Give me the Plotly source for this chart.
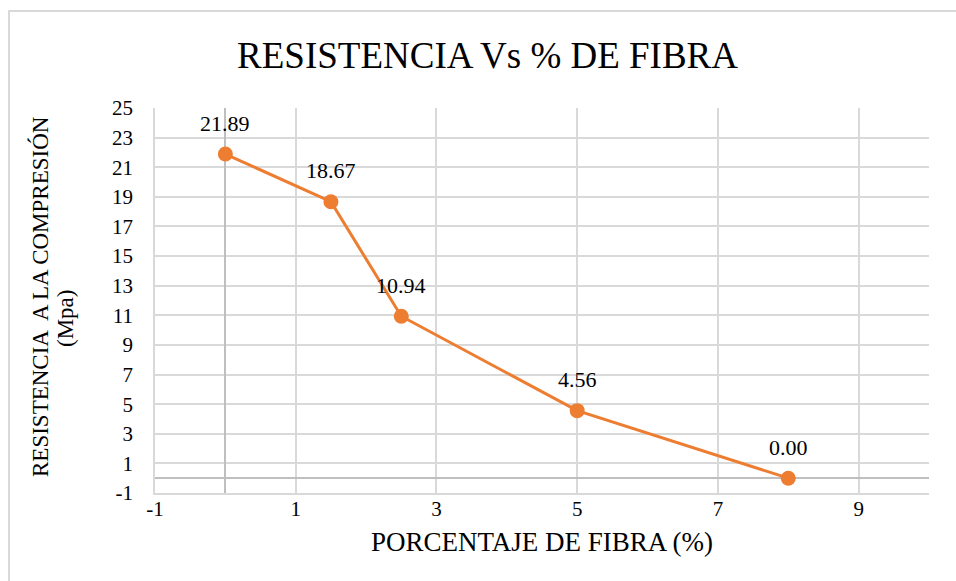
import plotly.graph_objects as go

fibra = [0, 1.5, 2.5, 5, 8]
resistencia = [21.89, 18.67, 10.94, 4.56, 0.00]
etiquetas = ["21.89", "18.67", "10.94", "4.56", "0.00"]
x_ticks = [-1, 1, 3, 5, 7, 9]
x_labels = ["-1", "1", "3", "5", "7", "9"]
y_ticks = list(range(-1, 26, 2))
y_labels = [str(v) for v in y_ticks]

ORANGE = "#ED7D31"
GRID = "#D9D9D9"
FONT = "Liberation Serif"

fig = go.Figure()
fig.add_trace(go.Scatter(
    x=fibra, y=resistencia, mode="lines+markers",
    line=dict(color=ORANGE, width=3),
    marker=dict(color=ORANGE, size=15),
    hoverinfo="skip", showlegend=False,
))

for xv, yv, t in zip(fibra, resistencia, etiquetas):
    fig.add_annotation(x=xv, y=yv, text=t, showarrow=False, yshift=31,
                       font=dict(family=FONT, size=22, color="#000000"))

L, R, T, B = 155, 27, 108, 88
W, H = 956, 581
pw, ph = W - L - R, H - T - B


def px_x(p):
    return (p - L) / pw


def px_y(p):
    return (H - B - p) / ph


# outer chart frame
fig.add_shape(type="rect", xref="paper", yref="paper",
              x0=px_x(9), x1=px_x(W + 5), y0=px_y(H + 5), y1=px_y(11),
              line=dict(color="#D9D9D9", width=2), fillcolor="rgba(0,0,0,0)",
              layer="below")

# y axis title (two lines, Excel spacing)
fig.add_annotation(xref="paper", yref="paper", x=px_x(40), y=px_y(297),
                   text="RESISTENCIA  A LA COMPRESIÓN", textangle=-90, showarrow=False,
                   xanchor="center", yanchor="middle",
                   font=dict(family=FONT, size=23, color="#000000"))
fig.add_annotation(xref="paper", yref="paper", x=px_x(65), y=px_y(319),
                   text="(Mpa)", textangle=-90, showarrow=False,
                   xanchor="center", yanchor="middle",
                   font=dict(family=FONT, size=23, color="#000000"))

fig.update_layout(
    width=W, height=H,
    margin=dict(l=L, r=R, t=T, b=B),
    paper_bgcolor="white", plot_bgcolor="white",
    font=dict(family=FONT, color="#000000"),
    title=dict(text="RESISTENCIA Vs % DE FIBRA", x=0.51, xanchor="center",
               y=1 - 55 / H, yanchor="middle",
               font=dict(family=FONT, size=37, color="#000000")),
    xaxis=dict(range=[-1, 10], tickvals=x_ticks, ticktext=x_labels, showgrid=True,
               gridcolor=GRID, gridwidth=1.5, zeroline=True, zerolinecolor="#BFBFBF",
               zerolinewidth=1.5, showline=True, linecolor=GRID, linewidth=1.5, ticks="",
               tickfont=dict(family=FONT, size=21), ticklabelstandoff=-4,
               title=dict(text="PORCENTAJE DE FIBRA (%)", standoff=12,
                          font=dict(family=FONT, size=27))),
    yaxis=dict(range=[-1, 25], tickvals=y_ticks, ticktext=y_labels, showgrid=True,
               gridcolor=GRID, gridwidth=1.5, zeroline=True, zerolinecolor="#BFBFBF",
               zerolinewidth=1.5, showline=True, linecolor=GRID, linewidth=1.5, ticks="",
               tickfont=dict(family=FONT, size=21), ticklabelstandoff=16),
)

fig.write_html("out.html", config={"displayModeBar": False})
with open("out.html", encoding="utf-8") as f:
    html = f.read()
html = html.replace("<body>", '<body style="margin:0;padding:0;overflow:hidden">', 1)
with open("out.html", "w", encoding="utf-8") as f:
    f.write(html)
